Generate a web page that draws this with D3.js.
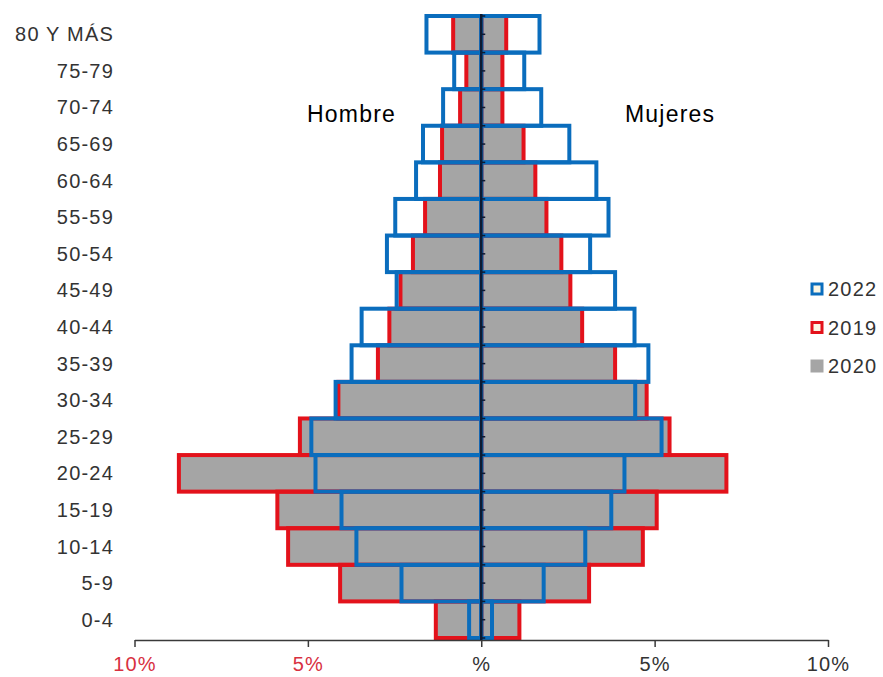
<!DOCTYPE html>
<html>
<head>
<meta charset="utf-8">
<script src="https://cdn.jsdelivr.net/npm/d3@7"></script>
<style>
  body { margin: 0; background: #fff; }
  svg { display: block; font-family: "Liberation Sans", Arial, sans-serif; }
</style>
</head>
<body>
<svg id="pyramid" width="883" height="677"></svg>
<script>
// age groups, bottom to top
const ageGroups = ['0-4', '5-9', '10-14', '15-19', '20-24', '25-29', '30-34', '35-39', '40-44',
    '45-49', '50-54', '55-59', '60-64', '65-69', '70-74', '75-79', '80 Y MÁS'];

// percent of population
const male2022 = [0.35, 2.3, 3.6, 4.03, 4.78, 4.9, 4.2, 3.74, 3.45, 2.44, 2.72, 2.48, 1.88, 1.68, 1.1, 0.78, 1.58];
const male2019 = [1.31, 4.07, 5.57, 5.88, 8.72, 5.23, 4.12, 2.98, 2.65, 2.33, 1.97, 1.62, 1.19, 1.13, 0.61, 0.43, 0.81];
const male2020 = [1.31, 4.07, 5.57, 5.88, 8.72, 5.23, 4.12, 2.98, 2.65, 2.33, 1.97, 1.62, 1.19, 1.13, 0.61, 0.43, 0.81];
const female2022 = [0.31, 1.8, 3.0, 3.75, 4.13, 5.2, 4.44, 4.82, 4.42, 3.86, 3.14, 3.67, 3.32, 2.54, 1.73, 1.24, 1.68];
const female2019 = [1.10, 3.11, 4.66, 5.06, 7.07, 5.43, 4.77, 3.86, 2.91, 2.57, 2.31, 1.88, 1.56, 1.22, 0.61, 0.61, 0.72];
const female2020 = [1.10, 3.11, 4.66, 5.06, 7.07, 5.43, 4.77, 3.86, 2.91, 2.57, 2.31, 1.88, 1.56, 1.22, 0.61, 0.61, 0.72];

const tickValues = [-10, -5, 0, 5, 10];
const tickLabels = ['10%', '5%', '%', '5%', '10%'];
const legendYears = ['2022', '2019', '2020'];

const blue = '#0a6dbd';
const red = '#e3121b';
const gray = '#a5a5a5';

const svg = d3.select('#pyramid');

const x = d3.scaleLinear().domain([-10, 10]).range([134.5, 828]);
const y = d3.scaleBand()
    .domain(ageGroups.slice().reverse())
    .range([16, 638])
    .padding(0);

// rows for drawing: one per group and side
function rows(male, female) {
    return ageGroups.flatMap((g, i) => [
        {group: g, side: -1, value: male[i]},
        {group: g, side: 1, value: female[i]}
    ]);
}

function drawBars(data, cls, fill, stroke) {
    svg.append('g')
        .attr('class', cls)
        .selectAll('rect')
        .data(data)
        .join('rect')
        .attr('x', d => d.side < 0 ? x(-d.value) : x(0))
        .attr('width', d => Math.abs(x(d.side * d.value) - x(0)))
        .attr('y', d => y(d.group))
        .attr('height', y.bandwidth())
        .attr('fill', fill)
        .attr('stroke', stroke)
        .attr('stroke-width', stroke === 'none' ? 0 : 4);
}

drawBars(rows(male2020, female2020), 'bars-2020', gray, 'none');
drawBars(rows(male2019, female2019), 'bars-2019', 'none', red);
drawBars(rows(male2022, female2022), 'bars-2022', 'none', blue);

// bottom axis
const xAxis = svg.append('g')
    .attr('transform', 'translate(0,640)')
    .call(d3.axisBottom(x)
        .tickValues(tickValues)
        .tickSize(7)
        .tickSizeOuter(0)
        .tickFormat((d, i) => tickLabels[i]));
xAxis.select('.domain').attr('stroke', '#3a3a3a').attr('stroke-width', 1.5);
xAxis.selectAll('.tick line').attr('stroke', '#3a3a3a').attr('stroke-width', 1.5);
xAxis.selectAll('.tick text')
    .attr('y', 17)
    .attr('dy', '0.71em')
    .style('font-size', '20px')
    .style('letter-spacing', '1.2px')
    .attr('fill', d => d < 0 ? '#d8303f' : '#333');

// center axis with small ticks every half band
const centerTicks = d3.range(0, ageGroups.length * 2 + 1).map(k => 16 + k * y.bandwidth() / 2);
const center = svg.append('g');
center.selectAll('line.mini')
    .data(centerTicks)
    .join('line')
    .attr('class', 'mini')
    .attr('x1', x(0))
    .attr('x2', x(0) + 4)
    .attr('y1', d => d)
    .attr('y2', d => d)
    .attr('stroke', '#0d1a33')
    .attr('stroke-width', 1.5);
center.append('line')
    .attr('x1', x(0)).attr('x2', x(0))
    .attr('y1', 14).attr('y2', 640)
    .attr('stroke', '#0d1a33')
    .attr('stroke-width', 2.5);

// age labels
svg.append('g')
    .selectAll('text')
    .data(ageGroups)
    .join('text')
    .attr('x', 114)
    .attr('y', d => y(d) + y.bandwidth() / 2)
    .attr('dy', '0.35em')
    .attr('text-anchor', 'end')
    .style('font-size', '20px')
    .style('letter-spacing', '1.2px')
    .attr('fill', '#333')
    .text(d => d);

// side titles
svg.append('text')
    .attr('x', 307).attr('y', 122)
    .style('font-size', '23px')
    .style('letter-spacing', '1.2px')
    .text('Hombre');
svg.append('text')
    .attr('x', 625).attr('y', 122)
    .style('font-size', '23px')
    .style('letter-spacing', '1.2px')
    .text('Mujeres');

// legend
const legend = svg.append('g')
    .selectAll('g')
    .data(legendYears)
    .join('g')
    .attr('transform', (d, i) => `translate(812,${289 + i * 38.5})`);

legend.append('rect')
    .attr('x', 0).attr('y', -5)
    .attr('width', 10).attr('height', 10)
    .attr('fill', d => d === '2020' ? gray : '#fbf6e4')
    .attr('stroke', d => d === '2022' ? blue : d === '2019' ? red : gray)
    .attr('stroke-width', 3);

legend.append('text')
    .attr('x', 16)
    .attr('dy', '0.35em')
    .style('font-size', '20px')
    .style('letter-spacing', '1.2px')
    .attr('fill', '#333')
    .text(d => d);
</script>
</body>
</html>
